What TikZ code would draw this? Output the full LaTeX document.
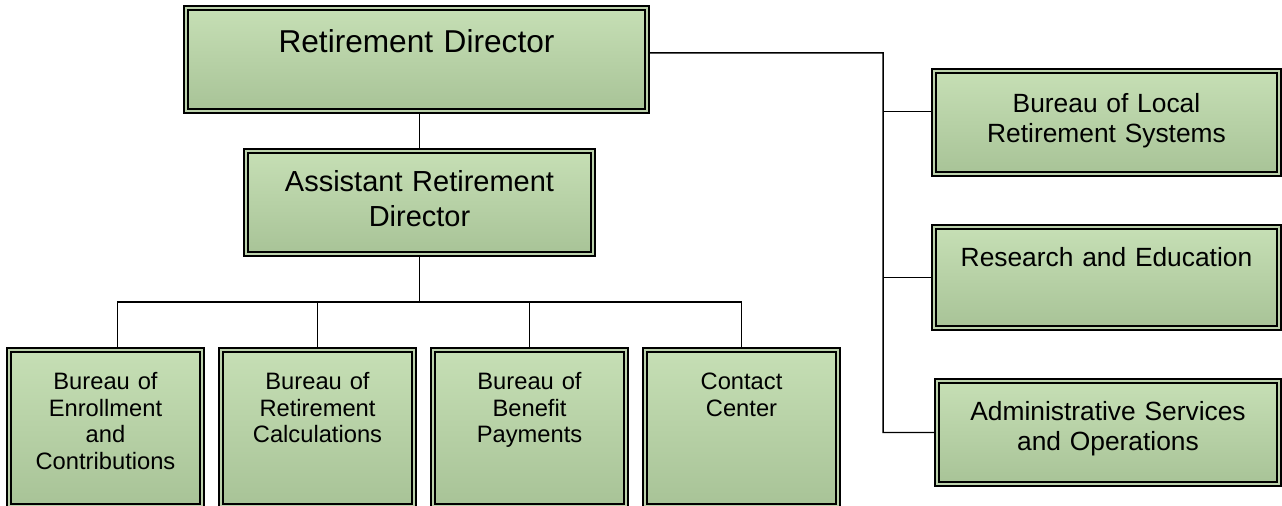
\documentclass[tikz,border=0pt]{standalone}
\usepackage{fontspec}
\setmainfont{Liberation Sans}
\usepackage{xcolor}
\usepackage{tikz}
\usetikzlibrary{positioning, calc}

\definecolor{boxtop}{HTML}{C6DFB5}
\definecolor{boxbot}{HTML}{A8C397}
\definecolor{boxgap}{HTML}{BCD2AC}

\begin{document}
\begin{tikzpicture}[
    x=0.02cm, y=-0.02cm,
    unit/.style={rectangle, draw=black, line width=1.25pt, double=boxgap, double distance=0.8pt, top color=boxtop, bottom color=boxbot, inner sep=0pt, align=center},
    link/.style={draw=black, line width=0.85pt}
]
\useasboundingbox (0,0) rectangle (1282,506);
\node (rd) at (416.5,59.5) [unit, text width=9.22cm, text height=0.9cm, text depth=1.16cm, font={\fontsize{18}{21}\selectfont}] {Retirement Director};
\node (ard) at (419.5,202.5) [unit, text width=6.94cm, text height=0.82cm, text depth=1.24cm, font={\fontsize{16.5}{19.9}\selectfont}] {Assistant Retirement\\Director};
\node (enroll) at (105.5,428) [unit, text width=3.86cm, text height=0.79cm, text depth=2.33cm, font={\fontsize{13.5}{15.2}\selectfont}] {Bureau of\\Enrollment\\and\\Contributions};
\node (calcs) at (317.5,428) [unit, text width=3.86cm, text height=0.79cm, text depth=2.33cm, font={\fontsize{13.5}{15.2}\selectfont}] {Bureau of\\Retirement\\Calculations};
\node (benefit) at (529.5,428) [unit, text width=3.86cm, text height=0.79cm, text depth=2.33cm, font={\fontsize{13.5}{15.2}\selectfont}] {Bureau of\\Benefit\\Payments};
\node (contact) at (741.5,428) [unit, text width=3.86cm, text height=0.79cm, text depth=2.33cm, font={\fontsize{13.5}{15.2}\selectfont}] {Contact\\Center};
\node (local) at (1106.5,122.5) [unit, text width=6.9cm, text height=0.84cm, text depth=1.22cm, font={\fontsize{15}{17}\selectfont}] {Bureau of Local\\Retirement Systems};
\node (research) at (1106.5,277.5) [unit, text width=6.9cm, text height=0.8cm, text depth=1.22cm, font={\fontsize{15}{17}\selectfont}] {Research and Education};
\node (admin) at (1108,432.5) [unit, text width=6.84cm, text height=0.78cm, text depth=1.28cm, font={\fontsize{15}{17.6}\selectfont}] {Administrative Services\\and Operations};
% right-hand branch
\coordinate (trunk) at (883,53);
\draw[link] ([yshift=0.13cm]rd.east) -- (trunk) |- (admin.west);
\draw[link] ([yshift=0.22cm]local.west) -- ([yshift=0.22cm]local.west -| trunk);
\draw[link] (research.west) -- (research.west -| trunk);
% lower tree
\coordinate (bus) at (419.5,302);
\draw[link] (ard.north |- rd.south) -- (ard.north);
\draw[link] (ard.south) -- (bus);
\draw[link] ([xshift=0.24cm]enroll.north) |- (bus) -| (contact.north);
\draw[link] (calcs.north) -- (calcs.north |- bus);
\draw[link] (benefit.north) -- (benefit.north |- bus);
\end{tikzpicture}
\end{document}
